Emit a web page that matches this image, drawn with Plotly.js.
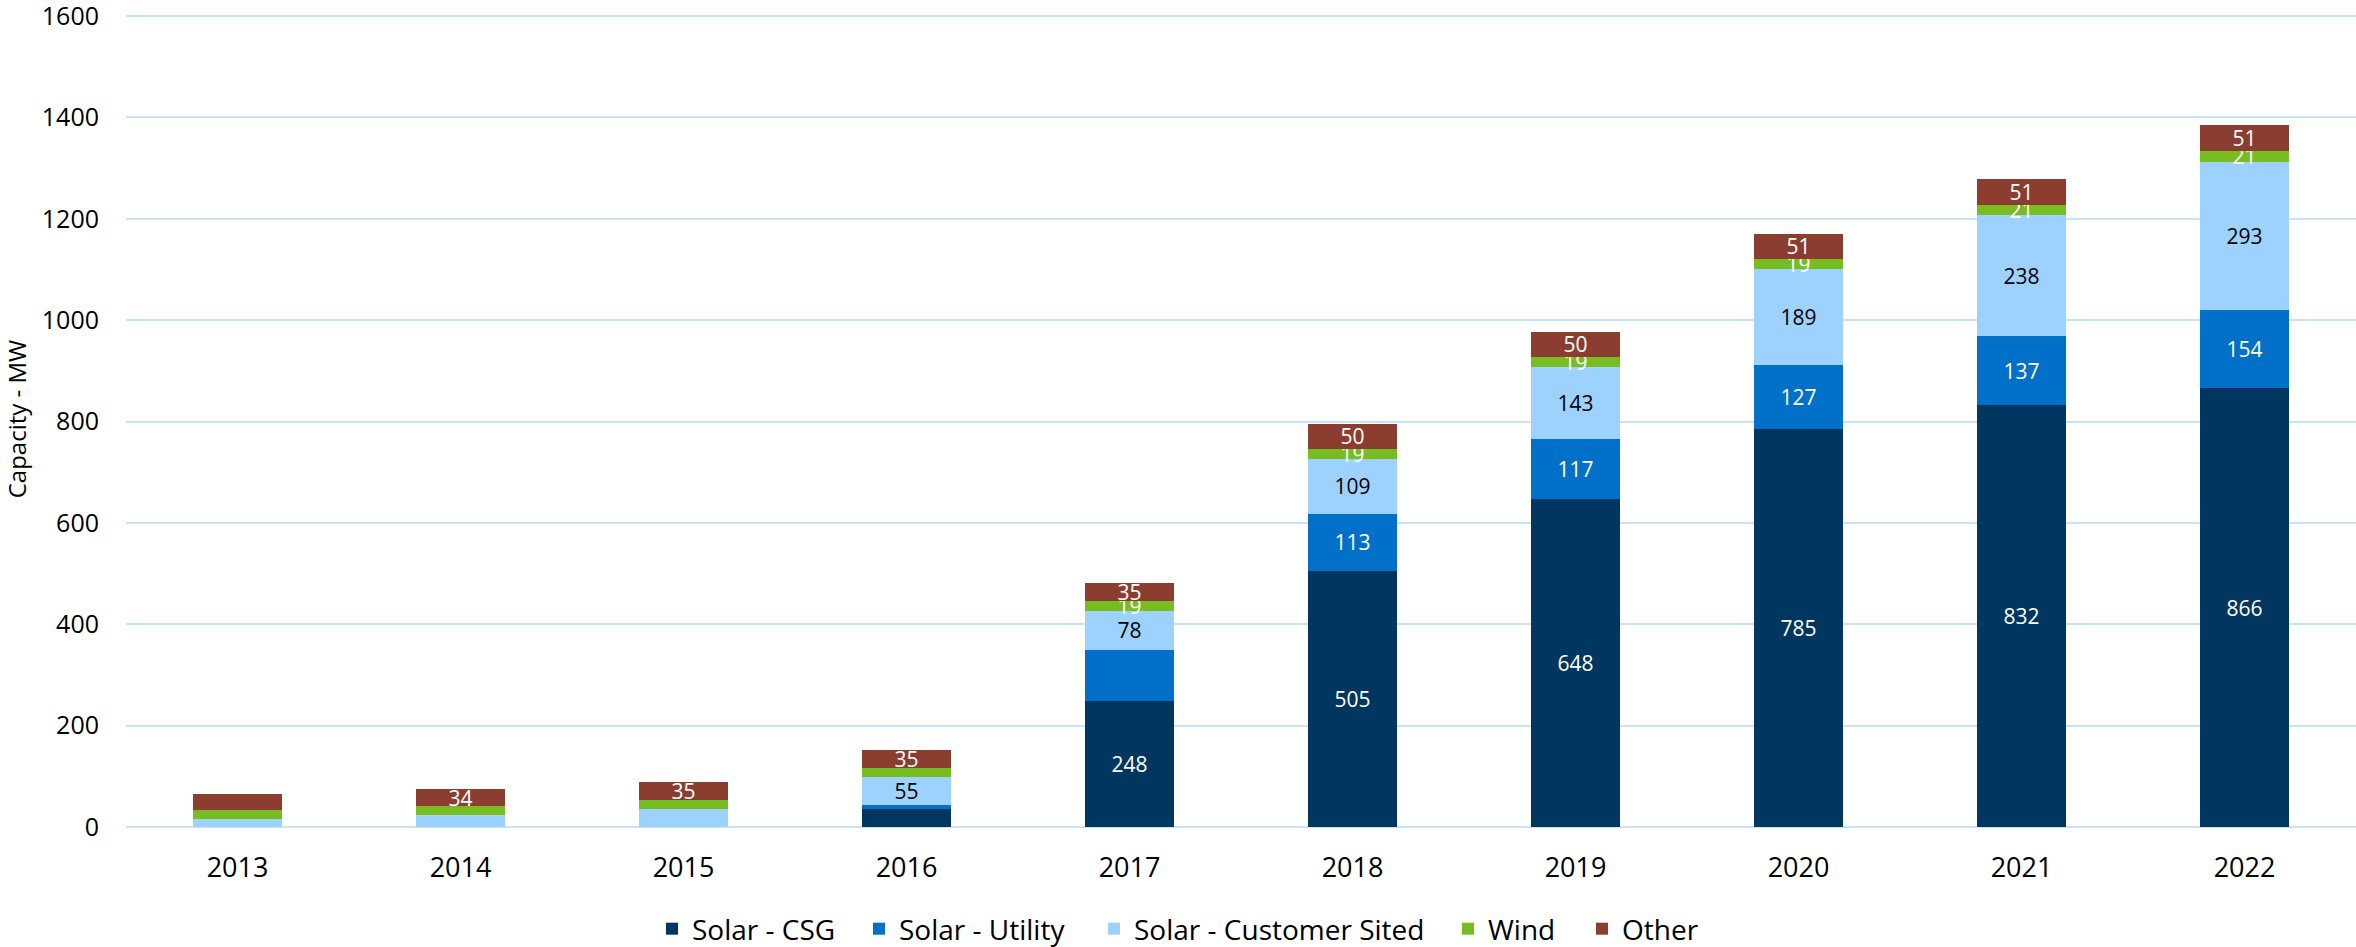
<!DOCTYPE html>
<html>
<head>
<meta charset="utf-8">
<script src="https://cdn.plot.ly/plotly-3.0.1.min.js"></script>
<style>
  html, body { margin: 0; padding: 0; background: #ffffff; }
  #chart { width: 2356px; height: 947px; }
</style>
</head>
<body>
<div id="chart"></div>
<script>
// ---- Data (MW) ----
var years = ['2013', '2014', '2015', '2016', '2017', '2018', '2019', '2020', '2021', '2022'];

var solarCSG      = [0, 0, 0, 36, 248, 505, 648, 785, 832, 866];
var solarUtility  = [0, 0, 0, 7, 101, 113, 117, 127, 137, 154];
var solarCustomer = [16, 23, 35, 55, 78, 109, 143, 189, 238, 293];
var wind          = [18, 18, 18, 19, 19, 19, 19, 19, 21, 21];
var other         = [32, 34, 35, 35, 35, 50, 50, 51, 51, 51];

// which data labels are shown in the original
var showCSG      = [false, false, false, false, true, true, true, true, true, true];
var showUtility  = [false, false, false, false, false, true, true, true, true, true];
var showCustomer = [false, false, false, true, true, true, true, true, true, true];
var showWind     = [false, false, false, false, true, true, true, true, true, true];
var showOther    = [false, true, true, true, true, true, true, true, true, true];

var yTicks = [0, 200, 400, 600, 800, 1000, 1200, 1400, 1600];

var seriesNames  = ['Solar - CSG', 'Solar - Utility', 'Solar - Customer Sited', 'Wind', 'Other'];
var seriesColors = ['#003660', '#0070C8', '#9DD2FF', '#77BD22', '#8B3E2F'];
var labelColors  = ['#ffffff', '#ffffff', '#000000', '#ffffff', '#ffffff'];

// legend text start positions (px, page coordinates) of each entry
var legendTextX = [692, 899, 1134, 1488, 1622];

var FONT = 'Open Sans, Liberation Sans, sans-serif';
var W = 2356, H = 947;

function labels(vals, show) {
  return vals.map(function (v, i) { return show[i] ? String(v) : ''; });
}

var seriesValues = [solarCSG, solarUtility, solarCustomer, wind, other];
var seriesShow   = [showCSG, showUtility, showCustomer, showWind, showOther];

function legendId(k) { return k === 0 ? 'legend' : 'legend' + (k + 1); }

var traces = seriesValues.map(function (vals, k) {
  return {
    type: 'bar',
    name: seriesNames[k],
    legend: legendId(k),
    x: years,
    y: vals,
    text: labels(vals, seriesShow[k]),
    texttemplate: '%{text}',
    textposition: 'inside',
    insidetextanchor: 'middle',
    constraintext: 'none',
    textangle: 0,
    textfont: { family: FONT, size: 21, color: labelColors[k] },
    marker: { color: seriesColors[k], line: { width: 0 } },
    cliponaxis: false
  };
});

var layout = {
  width: W,
  height: H,
  barmode: 'stack',
  bargap: 0.6,
  paper_bgcolor: '#ffffff',
  plot_bgcolor: '#ffffff',
  margin: { l: 126, r: 0, t: 11, b: 120, pad: 0 },
  font: { family: FONT, color: '#000000' },
  xaxis: {
    type: 'category',
    showgrid: false,
    zeroline: false,
    showline: false,
    ticks: '',
    ticklabelstandoff: 22,
    tickfont: { family: FONT, size: 27, color: '#000000' }
  },
  yaxis: {
    range: [0, 1610],
    tickmode: 'array',
    tickvals: yTicks,
    ticktext: yTicks.map(String),
    ticklabeloverflow: 'allow',
    showgrid: true,
    gridcolor: '#C7E3FA',
    gridwidth: 2,
    zeroline: true,
    zerolinecolor: '#C7E3FA',
    zerolinewidth: 2,
    showline: false,
    ticks: '',
    ticklabelstandoff: 26,
    tickfont: { family: FONT, size: 25, color: '#000000' },
    title: {
      text: 'Capacity - MW',
      font: { family: FONT, size: 24, color: '#000000' },
      standoff: 14
    }
  },
  showlegend: true
};

seriesNames.forEach(function (n, k) {
  layout[legendId(k)] = {
    orientation: 'h',
    xref: 'container',
    yref: 'container',
    x: (legendTextX[k] - 40) / W,
    xanchor: 'left',
    y: 1 - 929 / H,
    yanchor: 'middle',
    font: { family: FONT, size: 28, color: '#000000' },
    itemwidth: 30,
    borderwidth: 0,
    bgcolor: 'rgba(0,0,0,0)'
  };
});

Plotly.newPlot('chart', traces, layout, { displayModeBar: false, staticPlot: true });
</script>
</body>
</html>
